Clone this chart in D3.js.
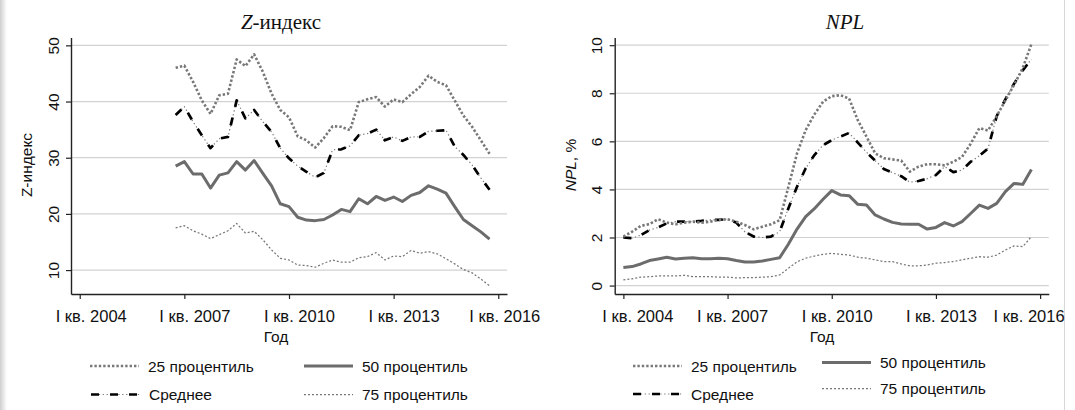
<!DOCTYPE html>
<html>
<head>
<meta charset="utf-8">
<script src="https://cdn.jsdelivr.net/npm/d3@7"></script>
<style>
  body { margin: 0; background: #fff; }
  svg { display: block; }
</style>
</head>
<body>
<svg id="chart" width="1075" height="410"></svg>
<script>
// quarter index: 0 = I кв. 2004
const xTickValues = [0, 12, 24, 36, 48]
const xTickLabels = ['I кв. 2004', 'I кв. 2007', 'I кв. 2010', 'I кв. 2013', 'I кв. 2016']

// Z-index, 2006Q4 (q=11) .. 2015Q4 (q=47)
const zStart = 11
const zP25 = [46.0, 46.4, 43.5, 40.2, 37.8, 41.1, 41.4, 47.5, 46.3, 48.4, 45.3, 41.4, 38.5, 37.2, 33.8, 33.1, 31.8, 33.5,
  35.6, 35.5, 34.9, 39.9, 40.4, 40.8, 39.1, 40.4, 39.9, 41.3, 42.6, 44.6, 43.5, 42.9, 40.2, 37.5, 35.5, 33.1, 30.7]
const zP50 = [28.5, 29.3, 27.1, 27.1, 24.6, 26.9, 27.3, 29.3, 27.8, 29.5, 27.2, 25.0, 21.8, 21.3, 19.4, 18.9, 18.8, 19.0,
  19.8, 20.8, 20.4, 22.7, 21.8, 23.1, 22.4, 23.0, 22.2, 23.3, 23.8, 25.0, 24.4, 23.7, 21.3, 19.0, 17.9, 16.8, 15.5]
const zMean = [37.6, 39.1, 36.4, 34.0, 31.7, 33.4, 33.7, 40.2, 37.0, 38.5, 36.4, 34.6, 31.7, 29.9, 28.5, 27.5, 26.5, 27.3,
  31.4, 31.5, 32.1, 34.0, 34.3, 35.0, 33.1, 33.7, 33.0, 33.7, 33.7, 34.7, 34.8, 34.9, 32.0, 30.5, 28.7, 26.4, 24.3]
const zP75 = [17.5, 17.9, 17.0, 16.4, 15.6, 16.3, 17.0, 18.3, 16.6, 16.9, 15.4, 13.6, 12.1, 11.8, 10.9, 10.8, 10.5, 11.2,
  11.8, 11.4, 11.4, 12.2, 12.4, 13.1, 11.8, 12.5, 12.4, 13.5, 13.0, 13.3, 12.9, 12.0, 11.1, 10.1, 9.5, 8.4, 7.2]
const zTicks = [10, 20, 30, 40, 50]

// NPL, %, 2004Q1 (q=0) .. 2015Q4 (q=47)
const nStart = 0
const nP25 = [2.04, 2.24, 2.48, 2.56, 2.76, 2.62, 2.55, 2.62, 2.66, 2.62, 2.66, 2.73, 2.76, 2.66, 2.52, 2.34,
  2.45, 2.55, 2.72, 4.1, 5.5, 6.47, 7.12, 7.65, 7.88, 7.92, 7.78, 6.88, 6.2, 5.5, 5.3, 5.25,
  5.2, 4.74, 4.95, 5.05, 5.05, 5.0, 5.15, 5.35, 5.9, 6.55, 6.45, 7.05, 7.7, 8.35, 9.05, 10.05]
const nP50 = [0.75, 0.79, 0.9, 1.04, 1.11, 1.18, 1.11, 1.14, 1.16, 1.12, 1.12, 1.14, 1.12, 1.04, 0.98, 0.98,
  1.02, 1.09, 1.16, 1.72, 2.35, 2.87, 3.2, 3.59, 3.95, 3.77, 3.74, 3.38, 3.35, 2.94, 2.77, 2.63,
  2.56, 2.55, 2.55, 2.35, 2.42, 2.62, 2.48, 2.66, 3.0, 3.35, 3.21, 3.42, 3.91, 4.25, 4.21, 4.83]
const nMean = [2.0, 1.97, 2.1, 2.31, 2.42, 2.59, 2.66, 2.66, 2.66, 2.69, 2.73, 2.73, 2.77, 2.62, 2.24, 2.04,
  2.0, 2.04, 2.24, 3.21, 4.11, 4.88, 5.43, 5.84, 6.05, 6.2, 6.35, 5.95, 5.55, 5.2, 4.85, 4.7,
  4.55, 4.3, 4.35, 4.45, 4.6, 4.95, 4.72, 4.8, 5.15, 5.4, 5.7, 7.05, 7.75, 8.4, 8.95, 9.42]
const nP75 = [0.24, 0.28, 0.35, 0.37, 0.40, 0.40, 0.40, 0.43, 0.37, 0.37, 0.37, 0.35, 0.35, 0.32, 0.33, 0.33,
  0.35, 0.37, 0.44, 0.72, 0.99, 1.14, 1.23, 1.30, 1.34, 1.30, 1.27, 1.18, 1.14, 1.07, 1.0, 1.0,
  0.9, 0.82, 0.82, 0.86, 0.93, 0.96, 1.0, 1.07, 1.14, 1.2, 1.18, 1.27, 1.48, 1.65, 1.62, 2.04]
const nTicks = [0, 2, 4, 6, 8, 10]

const seriesNames = ['25 процентиль', '50 процентиль', 'Среднее', '75 процентиль']

const SANS = '"Liberation Sans", Arial, sans-serif'
const SERIF = '"Liberation Serif", "Times New Roman", serif'
const FS = '15.5px'

const svg = d3.select('#chart')

// light frame of the original picture
svg.append('rect').attr('x', 0).attr('y', 0).attr('width', 1075).attr('height', 410).attr('fill', '#fff')
const shade = svg.append('defs').append('linearGradient').attr('id', 'shade')
shade.append('stop').attr('offset', '0%').attr('stop-color', '#cfcfcf')
shade.append('stop').attr('offset', '100%').attr('stop-color', '#fff')
svg.append('rect').attr('x', 0).attr('y', 0).attr('width', 7).attr('height', 410).attr('fill', 'url(#shade)')
svg.append('line').attr('x1', 1064.5).attr('x2', 1064.5).attr('y1', 0).attr('y2', 410)
  .attr('stroke', '#d8d8d8').attr('stroke-width', 1)

// dash-dot for the mean: faint grey dots under black dashes
const styles = {
  p25: [{ stroke: '#787878', width: 2.6, dash: '2.4,2' }],
  p50: [{ stroke: '#6c6c6c', width: 3, dash: null }],
  mean: [{ stroke: '#7a7a7a', width: 1.2, dash: '1.3,2.6' }, { stroke: '#000', width: 2.7, dash: '8,11' }],
  p75: [{ stroke: '#777', width: 1.25, dash: '2,2' }]
}

function strokePath (g, d, style) {
  style.forEach(s => {
    g.append('path')
      .attr('d', d)
      .attr('fill', 'none')
      .attr('stroke', s.stroke)
      .attr('stroke-width', s.width)
      .attr('stroke-dasharray', s.dash)
      .attr('stroke-linejoin', 'round')
  })
}

function panel (cfg) {
  const g = svg.append('g')
  const x = d3.scaleLinear().domain([-1, 49]).range(cfg.xRange)
  const y = d3.scaleLinear().domain(cfg.yDomain).range([294, 37.5])

  // grid
  g.append('g').selectAll('line').data(cfg.ticks).join('line')
    .attr('x1', cfg.xRange[0]).attr('x2', cfg.xRange[1])
    .attr('y1', d => y(d)).attr('y2', d => y(d))
    .attr('stroke', '#d2d2d2').attr('stroke-width', 1.2)

  // series
  const line = d3.line()
    .x((d, i) => x(cfg.start + i))
    .y(d => y(d))
  strokePath(g, line(cfg.p75), styles.p75)
  strokePath(g, line(cfg.p50), styles.p50)
  strokePath(g, line(cfg.mean), styles.mean)
  strokePath(g, line(cfg.p25), styles.p25)

  // y axis
  const ya = g.append('g')
    .attr('transform', `translate(${cfg.xRange[0]},0)`)
    .call(d3.axisLeft(y).tickValues(cfg.ticks).tickSize(5).tickSizeOuter(0))
  ya.select('.domain').attr('stroke', '#222').attr('stroke-width', 1.4)
  ya.selectAll('.tick line').attr('stroke', '#222').attr('stroke-width', 1.2)
  ya.selectAll('.tick text')
    .attr('transform', 'rotate(-90)')
    .attr('x', 0).attr('y', -12.5).attr('dy', 0)
    .style('text-anchor', 'middle')
    .style('font-family', SANS).style('font-size', FS).attr('fill', '#111')

  // x axis (Stata nudges the labels sideways; offsets)
  const xa = g.append('g')
    .attr('transform', 'translate(0,294)')
    .call(d3.axisBottom(x).tickValues(xTickValues).tickFormat((d, i) => xTickLabels[i]).tickSize(5).tickSizeOuter(0))
  xa.select('.domain').attr('stroke', '#222').attr('stroke-width', 1.4)
  xa.selectAll('.tick line').attr('stroke', '#222').attr('stroke-width', 1.2)
  xa.selectAll('.tick text')
    .attr('y', 27.5).attr('dy', 0)
    .attr('dx', (d, i) => cfg.labelShift[i])
    .style('font-family', SANS).style('font-size', '16.5px').attr('fill', '#111')

  // titles
  const t = g.append('text').attr('x', cfg.titleX).attr('y', 29)
    .attr('text-anchor', 'middle')
    .style('font-family', SERIF).style('font-size', '21px').attr('fill', '#111')
  cfg.title.forEach(p => t.append('tspan').text(p.text).style('font-style', p.italic ? 'italic' : 'normal'))

  const yt = g.append('text')
    .attr('transform', `translate(${cfg.yTitleX},165) rotate(-90)`)
    .attr('text-anchor', 'middle')
    .style('font-family', SANS).style('font-size', FS).attr('fill', '#111')
  cfg.yTitle.forEach(p => yt.append('tspan').text(p.text).style('font-style', p.italic ? 'italic' : 'normal'))

  g.append('text').attr('x', cfg.xTitleX).attr('y', 342)
    .attr('text-anchor', 'middle')
    .style('font-family', SANS).style('font-size', FS).attr('fill', '#111')
    .text('Год')

  // legend
  const keys = ['p25', 'p50', 'mean', 'p75']
  keys.forEach((k, i) => {
    const pos = cfg.legend[i]
    strokePath(g, d3.line()([[pos[0], pos[1]], [pos[0] + 49, pos[1]]]), styles[k])
    g.append('text').attr('x', pos[0] + 58).attr('y', pos[1] + 5.5)
      .style('font-family', SANS).style('font-size', FS).attr('fill', '#111')
      .text(seriesNames[i])
  })
}

panel({
  xRange: [71, 507],
  yDomain: [5.74, 51.4],
  ticks: zTicks,
  start: zStart,
  p25: zP25, p50: zP50, mean: zMean, p75: zP75,
  title: [{ text: 'Z', italic: true }, { text: '-индекс' }],
  titleX: 281,
  yTitle: [{ text: 'Z-индекс' }],
  yTitleX: 31.5,
  xTitleX: 276,
  labelShift: [11, 10, 10, 10, 6],
  legend: [[90, 366], [304, 366], [91, 394.5], [304, 394.5]]
})

panel({
  xRange: [614.7, 1048.8],
  yDomain: [-0.35, 10.32],
  ticks: nTicks,
  start: nStart,
  p25: nP25, p50: nP50, mean: nMean, p75: nP75,
  title: [{ text: 'NPL', italic: true }],
  titleX: 845,
  yTitle: [{ text: 'NPL', italic: true }, { text: ', %' }],
  yTitleX: 576,
  xTitleX: 822,
  labelShift: [14, 4.5, 5, 5, -11.5],
  legend: [[633, 366], [822, 362.5], [633, 394], [822, 388.5]]
})
</script>
</body>
</html>
